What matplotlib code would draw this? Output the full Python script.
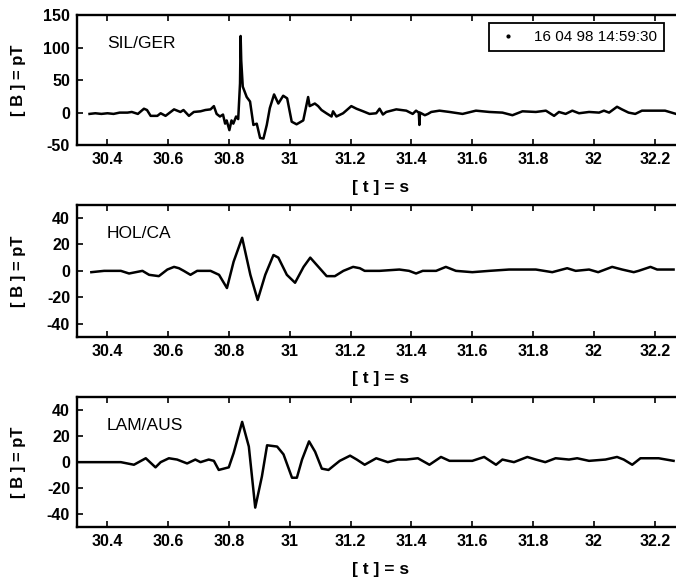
import matplotlib
matplotlib.use('Agg')
import matplotlib.pyplot as plt
from matplotlib.lines import Line2D

plt.rcParams['font.family'] = ['Liberation Sans', 'DejaVu Sans']
plt.rcParams['font.weight'] = 'bold'
plt.rcParams['axes.labelweight'] = 'bold'
plt.rcParams['axes.unicode_minus'] = False

# SIL/GER trace, time in s, field in pT
t_sil = [30.341, 30.36, 30.38, 30.40, 30.42, 30.44, 30.466, 30.48, 30.50, 30.52, 30.53, 30.542,
         30.564, 30.575, 30.591, 30.605, 30.619, 30.64, 30.65, 30.668, 30.684, 30.706, 30.722,
         30.739, 30.75, 30.759, 30.77, 30.78, 30.787, 30.792, 30.801, 30.808, 30.814, 30.823,
         30.83, 30.836, 30.838, 30.840, 30.845, 30.858, 30.869, 30.88, 30.891, 30.902, 30.913,
         30.924, 30.934, 30.948, 30.962, 30.978, 30.991, 31.006, 31.022, 31.044, 31.060, 31.065,
         31.082, 31.093, 31.104, 31.12, 31.137, 31.142, 31.153, 31.175, 31.202, 31.219, 31.241,
         31.262, 31.284, 31.295, 31.306, 31.317, 31.35, 31.383, 31.404, 31.415, 31.424, 31.426,
         31.428, 31.444, 31.454, 31.465, 31.492, 31.525, 31.568, 31.612, 31.656, 31.699, 31.732,
         31.765, 31.809, 31.842, 31.869, 31.885, 31.907, 31.929, 31.951, 31.984, 32.017, 32.033,
         32.05, 32.076, 32.092, 32.114, 32.136, 32.158, 32.234, 32.27]
b_sil = [-2, -1, -2, -1, -2, 0, 0, 1, -2, 6, 4, -5,
         -5, -1, -5, 0, 5, 1, 4, -5, 1, 2, 4,
         5, 10, -2, -6, -3, -17, -12, -27, -12, -17, -6,
         -10, 45, 118, 80, 40, 24, 17, -19, -17, -39, -40,
         -19, 7, 28, 14, 26, 22, -14, -18, -12, 24, 10,
         14, 10, 4, -1, -6, 2, -6, -1, 10, 6, 2,
         -2, -1, 6, -3, 1, 5, 3, -2, 3, 0, -19,
         0, -4, -2, 1, 3, 1, -2, 3, 1, 0, -4,
         2, 1, 3, -5, 1, -2, 3, -1, 1, 0, 3,
         0, 9, 5, 0, -2, 3, 3, -2]

# HOL/CA trace
t_hol = [30.347, 30.389, 30.444, 30.471, 30.493, 30.515, 30.537, 30.569, 30.597, 30.619, 30.635,
         30.651, 30.673, 30.695, 30.717, 30.739, 30.767, 30.793, 30.815, 30.843, 30.870, 30.894,
         30.919, 30.946, 30.962, 30.99, 31.017, 31.045, 31.067, 31.094, 31.121, 31.148, 31.176,
         31.208, 31.23, 31.246, 31.295, 31.36, 31.392, 31.415, 31.437, 31.481, 31.513, 31.546,
         31.60, 31.656, 31.721, 31.809, 31.863, 31.912, 31.94, 31.984, 32.014, 32.06, 32.093,
         32.131, 32.147, 32.186, 32.208, 32.262]
b_hol = [-1, 0, 0, -2, -1, 0, -3, -4, 1, 3, 2,
         0, -3, 0, 0, 0, -3, -13, 7, 25, -3, -22,
         -3, 12, 10, -3, -9, 3, 10, 3, -4, -4, 0,
         3, 2, 0, 0, 1, 0, -2, 0, 0, 3, 0,
         -1, 0, 1, 1, -1, 2, 0, 1, -1, 3, 1,
         -1, 0, 3, 1, 1]

# LAM/AUS trace
t_lam = [30.302, 30.345, 30.389, 30.444, 30.487, 30.526, 30.558, 30.575, 30.602, 30.629, 30.662,
         30.689, 30.706, 30.733, 30.75, 30.766, 30.799, 30.815, 30.843, 30.865, 30.886, 30.908,
         30.925, 30.958, 30.979, 31.007, 31.023, 31.04, 31.063, 31.083, 31.105, 31.127, 31.148,
         31.164, 31.198, 31.22, 31.246, 31.284, 31.322, 31.355, 31.383, 31.421, 31.459, 31.497,
         31.525, 31.60, 31.639, 31.678, 31.699, 31.737, 31.781, 31.809, 31.84, 31.874, 31.918,
         31.945, 31.984, 32.038, 32.076, 32.098, 32.126, 32.153, 32.213, 32.262]
b_lam = [0, 0, 0, 0, -2, 3, -4, 0, 3, 2, -1,
         2, 0, 2, 1, -6, -4, 7, 31, 12, -35, -11,
         13, 12, 6, -12, -12, 2, 16, 8, -5, -6, -2,
         1, 5, 2, -2, 3, 0, 2, 2, 3, -2, 4,
         1, 1, 4, -2, 2, 0, 4, 2, 0, 3, 2,
         3, 1, 2, 4, 2, -2, 3, 3, 1]

stations = ['SIL/GER', 'HOL/CA', 'LAM/AUS']
x_ticks = [30.4, 30.6, 30.8, 31.0, 31.2, 31.4, 31.6, 31.8, 32.0, 32.2]
y_ticks_sil = [-50, 0, 50, 100, 150]
y_ticks_small = [-40, -20, 0, 20, 40]
event_label = '16 04 98 14:59:30'

fig = plt.figure(figsize=(6.76, 5.85), dpi=100)

panels = [
    (t_sil, b_sil, stations[0], (-50, 150), y_ticks_sil, 0.752, 0.222),
    (t_hol, b_hol, stations[1], (-50, 50), y_ticks_small, 0.424, 0.226),
    (t_lam, b_lam, stations[2], (-50, 50), y_ticks_small, 0.099, 0.222),
]

axes = []
for t, b, name, ylim, yticks, bottom, height in panels:
    ax = fig.add_axes([0.114, bottom, 0.886, height])
    ax.plot(t, b, color='black', lw=1.8)
    ax.set_xlim(30.3, 32.27)
    ax.set_ylim(*ylim)
    ax.set_xticks(x_ticks)
    ax.set_xticklabels(['%g' % v for v in x_ticks])
    ax.set_yticks(yticks)
    ax.tick_params(direction='in', top=True, right=False, length=4, width=1.2,
                   labelsize=11.5, pad=5)
    ax.spines['right'].set_visible(False)
    for side in ['left', 'top', 'bottom']:
        ax.spines[side].set_linewidth(1.7)

    ax.text(0.05, 0.785, name, transform=ax.transAxes, fontsize=12.5,
            fontweight='normal', va='center', ha='left')

    ax.set_xlabel('[ t ] = s', fontsize=12.5, va='center')
    ax.xaxis.set_label_coords(0.506, -42 / (height * 585))
    ax.set_ylabel('[ B ] = pT', fontsize=12, va='center')
    ax.yaxis.set_label_coords(-0.098, 0.5)
    axes.append(ax)

handle = Line2D([], [], ls='none', marker='.', ms=4, color='black')
leg = axes[0].legend([handle], [event_label], loc='upper right',
                     bbox_to_anchor=(0.98, 0.938), borderaxespad=0, fancybox=False,
                     edgecolor='black', framealpha=1, prop={'size': 11, 'weight': 'normal'},
                     handlelength=1.6, handletextpad=0.9, borderpad=0.45)
leg.get_frame().set_linewidth(1.3)

fig.savefig('out.png', dpi=100)
